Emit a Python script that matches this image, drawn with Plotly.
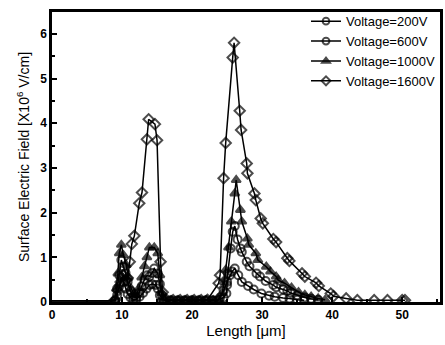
import plotly.graph_objects as go

base_x = [0, 1, 2, 3, 4, 5, 6, 7, 8]
base_y = [0.03] * 9

x200 = [9.0, 9.3, 9.6, 9.9, 10.2, 10.5, 10.8, 11.2, 11.6, 12.0, 12.5, 13.0, 13.5, 13.9, 14.3, 14.8, 15.1, 15.4, 15.8,
        16.8, 17.8, 18.8, 19.8, 20.8, 21.8, 22.8, 23.5, 24.0, 24.5, 25.0, 25.4, 25.7, 26.1, 26.6, 27.1, 28.0, 28.8,
        29.9, 31.0, 31.8, 33.0, 33.9, 35.0, 36.0]
y200 = [0.02, 0.15, 0.35, 0.55, 0.45, 0.3, 0.18, 0.1, 0.05, 0.05, 0.12, 0.2, 0.3, 0.38, 0.4, 0.38, 0.3, 0.15, 0.05,
        0.03, 0.03, 0.03, 0.03, 0.03, 0.03, 0.03, 0.03, 0.1, 0.25, 0.45, 0.6, 0.68, 0.75, 0.6, 0.45, 0.36, 0.28,
        0.19, 0.14, 0.12, 0.09, 0.08, 0.05, 0.04]

x600 = [9.0, 9.3, 9.6, 9.9, 10.2, 10.5, 10.8, 11.2, 11.6, 12.0, 12.4, 12.8, 13.2, 13.6, 13.9, 14.3, 14.6, 15.1, 15.4,
        15.7, 16.0, 17.0, 18.0, 19.0, 20.0, 21.0, 22.0, 23.0, 23.8, 24.5, 24.9, 25.0, 25.1, 25.5, 25.8, 26.1, 26.5,
        26.9, 27.1, 27.8, 28.2, 29.2, 29.7, 30.5, 31.6, 32.0, 33.0, 33.6, 34.1, 35.0, 36.1, 37.0, 38.0]
y600 = [0.03, 0.3, 0.6, 0.94, 0.79, 0.65, 0.45, 0.25, 0.12, 0.1, 0.2, 0.35, 0.5, 0.6, 0.57, 0.65, 0.75, 0.64, 0.4,
        0.15, 0.05, 0.04, 0.04, 0.04, 0.04, 0.04, 0.04, 0.04, 0.05, 0.1, 0.19, 0.38, 0.64, 1.2, 1.57, 1.7, 1.4,
        1.2, 1.12, 0.9, 0.8, 0.64, 0.57, 0.47, 0.38, 0.33, 0.28, 0.25, 0.2, 0.15, 0.1, 0.07, 0.05]

x1000 = [9.0, 9.2, 9.4, 9.6, 9.9, 10.2, 10.6, 10.9, 11.3, 11.7, 12.0, 12.4, 12.8, 13.2, 13.55, 13.9, 14.6, 15.1, 15.4,
         15.7, 16.0, 17.0, 18.0, 19.0, 20.0, 21.0, 22.0, 23.0, 23.8, 24.3, 24.6, 24.8, 25.2, 25.6, 26.1, 26.3, 26.9,
         27.1, 27.9, 28.1, 29.1, 29.4, 30.6, 31.2, 32.0, 32.3, 33.2, 34.2, 35.2, 36.1, 37.0, 38.0, 39.0]
y1000 = [0.05, 0.3, 0.64, 1.09, 1.28, 1.05, 0.83, 0.55, 0.3, 0.18, 0.15, 0.3, 0.55, 0.8, 1.0, 1.22, 1.22, 1.09, 0.6,
         0.2, 0.05, 0.04, 0.04, 0.04, 0.04, 0.04, 0.04, 0.04, 0.05, 0.2, 0.45, 0.72, 1.22, 1.8, 2.43, 2.73, 2.06,
         1.8, 1.42, 1.28, 1.09, 0.94, 0.79, 0.68, 0.57, 0.49, 0.42, 0.32, 0.22, 0.16, 0.12, 0.08, 0.05]

x1600 = [9.0, 9.4, 9.8, 10.2, 10.6, 10.8, 11.1, 11.4, 11.76, 12.46, 12.85, 13.55, 13.8, 14.7, 15.0, 15.5, 15.8, 16.3,
         17.3, 18.3, 19.3, 20.3, 21.3, 22.2, 23.8, 24.0, 24.5, 24.8, 25.8, 26.0, 26.8, 27.0, 27.8, 27.9, 28.9, 29.1,
         29.8, 30.1, 31.6, 32.0, 33.6, 33.9, 35.7, 36.1, 37.7, 38.1, 39.8, 40.2, 42.0, 43.6, 46.0, 47.9, 50.0, 50.4]
y1600 = [0.05, 0.25, 0.45, 0.6, 0.49, 0.54, 0.9, 1.3, 1.48, 2.21, 2.45, 3.64, 4.09, 3.98, 3.62, 0.9, 0.22, 0.06,
         0.04, 0.04, 0.04, 0.04, 0.04, 0.05, 0.42, 0.6, 2.77, 3.56, 5.47, 5.8, 4.28, 3.85, 3.1, 2.88, 2.43, 2.28,
         1.87, 1.76, 1.41, 1.34, 0.98, 0.92, 0.64, 0.57, 0.43, 0.36, 0.19, 0.13, 0.08, 0.04, 0.04, 0.04, 0.04, 0.04]

series = [
    ("Voltage=200V", x200, y200, "circle-open"),
    ("Voltage=600V", x600, y600, "circle-open"),
    ("Voltage=1000V", x1000, y1000, "triangle-up"),
    ("Voltage=1600V", x1600, y1600, "diamond-open"),
]

fig = go.Figure()
for name, xs, ys, sym in series:
    xx = base_x + xs
    yy = base_y + ys
    sizes = [0 if v < 8.5 else 8 for v in xx]
    fig.add_trace(go.Scatter(
        x=xx, y=yy, mode="lines+markers", name=name,
        line=dict(color="black", width=1.5),
        marker=dict(symbol=sym, size=sizes, color="black",
                    line=dict(color="black", width=2)),
    ))

font = "Arial, Liberation Sans, sans-serif"
axis_common = dict(
    showline=True, linecolor="black", linewidth=2.5, mirror=True,
    ticks="inside", tickcolor="black", tickwidth=1.5, ticklen=5,
    showgrid=False, zeroline=False,
    tickfont=dict(family=font, size=12, color="#000000", weight="bold"),
)
fig.update_layout(
    width=445, height=345,
    margin=dict(l=52, r=2, t=12, b=43),
    paper_bgcolor="white", plot_bgcolor="white",
    font=dict(family=font, color="#000000"),
    showlegend=True,
    legend=dict(x=1.0, y=1.02, xanchor="right", yanchor="top",
                bgcolor="rgba(0,0,0,0)", borderwidth=0,
                font=dict(family=font, size=13, color="#000000"),
                itemwidth=30, tracegroupgap=0),
    xaxis=dict(range=[0, 55.4], tickvals=[0, 10, 20, 30, 40, 50],
               minor=dict(ticks="inside", ticklen=3, tickcolor="black", dtick=5, tick0=0),
               title=dict(text="Length [μm]", font=dict(family=font, size=15, color="#000000"), standoff=4),
               **axis_common),
    yaxis=dict(range=[0, 6.49], tickvals=[0, 1, 2, 3, 4, 5, 6],
               minor=dict(ticks="inside", ticklen=3, tickcolor="black", dtick=0.5, tick0=0),
               title=dict(text="Surface Electric Field [X10<sup>6</sup> V/cm]",
                          font=dict(family=font, size=14, color="#000000"), standoff=8),
               **axis_common),
)

fig.write_html("out.html")
